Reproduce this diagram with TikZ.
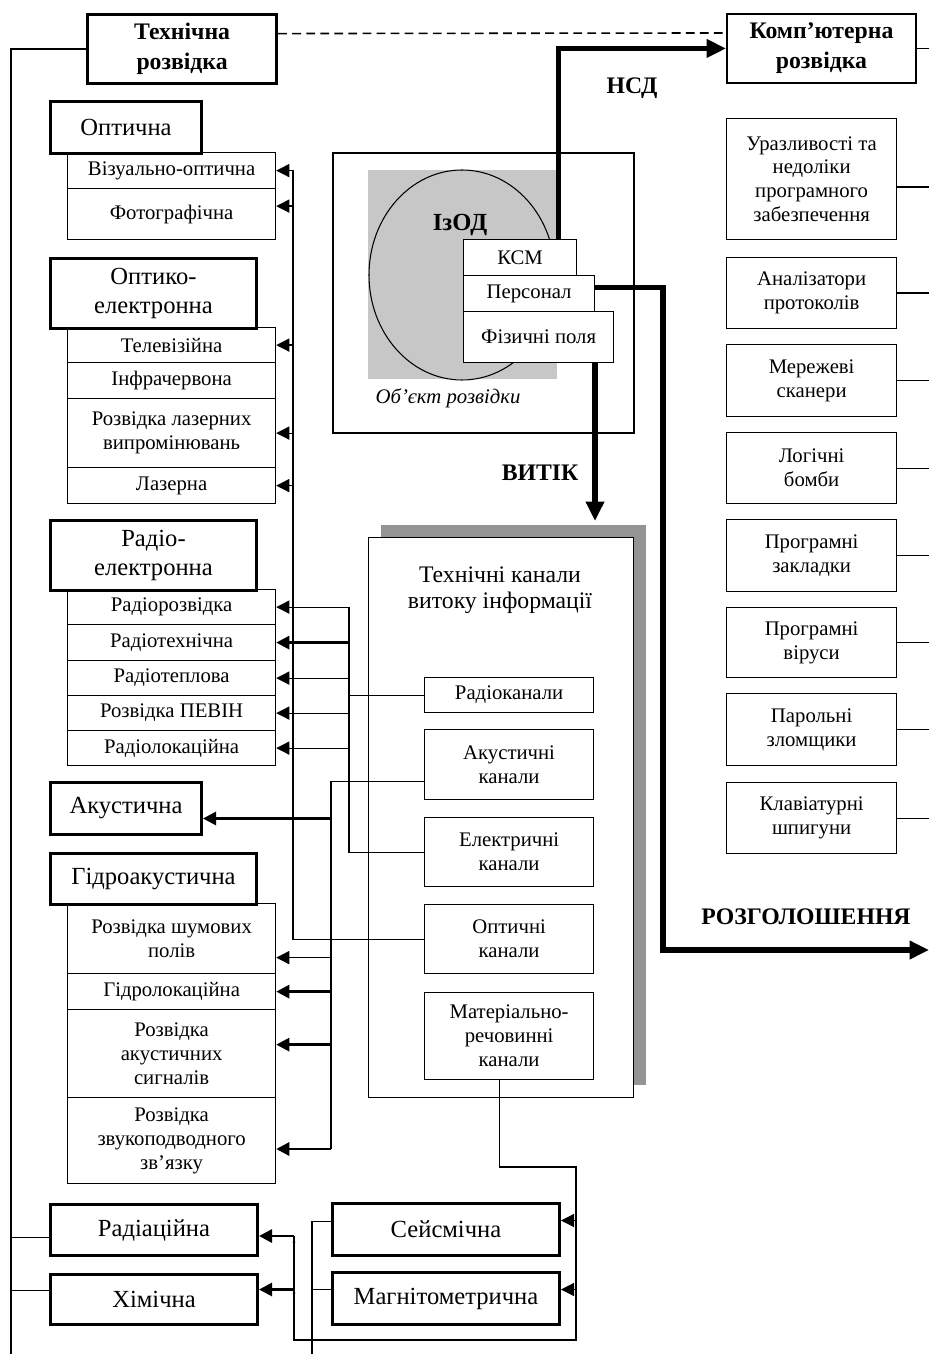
\documentclass[tikz,border=0pt]{standalone}
\usepackage{fontspec}
\setmainfont{Liberation Serif}
\usetikzlibrary{positioning, arrows.meta, shadows}
\newlength{\pxu}
\setlength{\pxu}{0.02cm}

\begin{document}
\begin{tikzpicture}[
  x=\pxu, y=-\pxu, line width=0.7pt,
  every node/.style={font=\fontsize{11.8}{13.6}\selectfont},
  wh/.style 2 args={minimum width=#1\pxu, minimum height=#2\pxu},
  hdr/.style={draw, line width=1.7pt, align=center, inner sep=0pt, anchor=north west, font=\fontsize{14}{16}\selectfont},
  hdrb/.style={draw, line width=1.8pt, align=center, inner sep=0pt, anchor=north west, font=\fontsize{13.5}{17}\selectfont\bfseries},
  sub/.style={draw, line width=0.7pt, align=center, inner sep=0pt, anchor=north west},
  lbl/.style={font=\fontsize{13.5}{16}\selectfont\bfseries},
  arr/.style={-{Triangle[length=7.5pt, width=7.5pt]}, line width=0.7pt},
  marr/.style={-{Triangle[length=7.5pt, width=7.5pt]}, line width=1.6pt},
  barr/.style={-{Triangle[length=11pt, width=10pt]}, line width=3pt}
]
\useasboundingbox (0,0) rectangle (929,1354);

% --- top boxes ---
\node[hdrb, wh={189}{69}] (tech) at (86,13) {Технічна\\розвідка};
\node[hdrb, wh={189}{69}, line width=1.1pt] (comp) at (726,13) {Комп’ютерна\\розвідка};
\draw[line width=0.9pt, dash pattern=on 5pt off 3pt] ([yshift=15.5\pxu]tech.east) -- ([yshift=15.5\pxu]comp.west);

% --- object of reconnaissance ---
\node[draw, line width=1.3pt, anchor=north west, inner sep=0pt, wh={301}{280}] (obj) at (332,152) {};
\fill[black!22] (368,170) rectangle (557,379);
\draw[line width=0.6pt] (462,275) ellipse [x radius=93, y radius=105];
\node[font=\fontsize{14}{16}\selectfont\bfseries] (izod) at (460,225) {ІзОД};
\node[sub, fill=white, wh={150}{51}] (phys) at (463,311) {Фізичні поля};
\node[sub, fill=white, wh={131}{36}] (pers) at (463,275) {Персонал};
\node[sub, fill=white, wh={113}{36}] (ksm) at (463,239) {КСМ};
\node[font=\fontsize{11.8}{14}\selectfont\itshape] (objlbl) at (448,398) {Об’єкт розвідки};

% --- channels of leakage ---
\node[draw, fill=white, anchor=north west, inner sep=0pt, wh={265}{560},
  drop shadow={shadow xshift=12\pxu, shadow yshift=13\pxu, fill=black!42, opacity=1}] (chan) at (368,537) {};
\node[font=\fontsize{13.5}{14.5}\selectfont, align=center] (chantitle) at (500,590) {Технічні канали\\витоку інформації};
\node[sub, wh={169}{35}] (rch) at (424,677) {Радіоканали};
\node[sub, wh={169}{70}] (ach) at (424,729) {Акустичні\\канали};
\node[sub, wh={169}{69}] (ech) at (424,817) {Електричні\\канали};
\node[sub, wh={169}{69}] (och) at (424,904) {Оптичні\\канали};
\node[sub, wh={169}{87}] (mch) at (424,992) {Матеріально-\\речовинні\\канали};

% --- thick flows ---
\draw[barr] ([xshift=-19\pxu]ksm.north east) |- (comp.west);
\node[lbl] (nsd) at (632,88) {НСД};
\coordinate (leak) at (595,521);
\draw[barr] (phys.south -| leak) -- (leak);
\node[lbl] (vytik) at (540,473) {ВИТІК};
\coordinate (discturn) at (663,950);
\coordinate (disc) at (929,950);
\draw[barr] ([yshift=6\pxu]pers.east) -| (discturn) -- (disc);
\node[lbl] (rozg) at (806,917) {РОЗГОЛОШЕННЯ};

% --- computer reconnaissance ---
\coordinate (redge) at (929,0);
\draw (comp.east) -- (comp.east -| redge);
\node[sub, wh={170}{121}] (vuln) at (726,118) {Уразливості та\\недоліки\\програмного\\забезпечення};
\node[sub, wh={170}{71}] (anal) at (726,257) {Аналізатори\\протоколів};
\node[sub, wh={170}{72}] (scan) at (726,344) {Мережеві\\сканери};
\node[sub, wh={170}{71}] (bomb) at (726,432) {Логічні\\бомби};
\node[sub, wh={170}{72}] (bugs) at (726,519) {Програмні\\закладки};
\node[sub, wh={170}{70}] (virus) at (726,607) {Програмні\\віруси};
\node[sub, wh={170}{72}] (pwd) at (726,693) {Парольні\\зломщики};
\node[sub, wh={170}{71}] (keys) at (726,782) {Клавіатурні\\шпигуни};
\coordinate (vulnport) at ([yshift=-8\pxu]vuln.east);
\draw (vulnport) -- (vulnport -| redge);
\foreach \n in {anal, scan, bomb, bugs, virus, pwd, keys}
  \draw (\n.east) -- (\n.east -| redge);

% --- technical reconnaissance, left column ---
\node[hdr, wh={151}{52}] (opt) at (49,100) {Оптична};
\node[sub, wh={208}{36}] (vis) at (67,152) {Візуально-оптична};
\node[sub, wh={208}{51}] (foto) at (67,188) {Фотографічна};
\node[hdr, wh={206}{70}] (optel) at (49,257) {Оптико-\\електронна};
\node[sub, wh={208}{35}] (tv) at (67,327) {Телевізійна};
\node[sub, wh={208}{36}] (ir) at (67,362) {Інфрачервона};
\node[sub, wh={208}{69}] (lasr) at (67,398) {Розвідка лазерних\\випромінювань};
\node[sub, wh={208}{36}] (lasr2) at (67,467) {Лазерна};
\node[hdr, wh={206}{70}] (radel) at (49,519) {Радіо-\\електронна};
\node[sub, wh={208}{35}] (rrozv) at (67,589) {Радіорозвідка};
\node[sub, wh={208}{36}] (rtech) at (67,624) {Радіотехнічна};
\node[sub, wh={208}{35}] (rtepl) at (67,660) {Радіотеплова};
\node[sub, wh={208}{35}] (pevin) at (67,695) {Розвідка ПЕВІН};
\node[sub, wh={208}{35}] (rloc) at (67,730) {Радіолокаційна};
\node[hdr, wh={151}{52}] (acu) at (49,781) {Акустична};
\node[hdr, wh={206}{51}] (hydro) at (49,852) {Гідроакустична};
\node[sub, wh={208}{70}] (noise) at (67,903) {Розвідка шумових\\полів};
\node[sub, wh={208}{36}] (hloc) at (67,973) {Гідролокаційна};
\node[sub, wh={208}{88}] (asig) at (67,1009) {Розвідка\\акустичних\\сигналів};
\node[sub, wh={208}{86}] (zvuk) at (67,1097) {Розвідка\\звукоподводного\\зв’язку};
\node[hdr, wh={207}{51}] (rad) at (49,1203) {Радіаційна};
\node[hdr, wh={207}{50}] (chem) at (49,1273) {Хімічна};
\node[hdr, wh={227}{52}] (seis) at (331,1202) {Сейсмічна};
\node[hdr, wh={227}{52}] (magn) at (331,1271) {Магнітометрична};

% trunk from technical reconnaissance
\coordinate (trunk) at (11,1354);
\draw (tech.west) -| (trunk);
\coordinate (radwest) at ([yshift=-7.5\pxu]rad.west);
\draw (radwest) -- (radwest -| trunk);
\coordinate (chemwest) at ([yshift=9\pxu]chem.west);
\draw (chemwest) -- (chemwest -| trunk);

% optical channels
\coordinate (optbus) at (293,170);
\draw (och.west) -| (optbus);
\foreach \n in {vis, tv, lasr, lasr2}
  \draw[arr] (\n.east -| optbus) -- (\n.east);
\coordinate (fotoport) at ([yshift=8\pxu]foto.east);
\draw[arr] (fotoport -| optbus) -- (fotoport);

% radio channels
\coordinate (radbus) at (349,607);
\draw (ech.west) -| (radbus);
\draw (rch.west) -- (rch.west -| radbus);
\foreach \n in {rrozv, rtepl, pevin, rloc}
  \draw[arr] (\n.east -| radbus) -- (\n.east);
\draw[marr] (rtech.east -| radbus) -- (rtech.east);

% acoustic channels
\coordinate (acport) at ([yshift=-17\pxu]ach.west);
\coordinate (acbus) at (331,1149);
\draw (acport) -| (acbus);
\coordinate (acuport) at ([yshift=-10\pxu]acu.east);
\draw[marr] (acuport -| acbus) -- (acuport);
\coordinate (noiseport) at ([yshift=-19\pxu]noise.east);
\draw[arr] (noiseport -| acbus) -- (noiseport);
\draw[marr] (hloc.east -| acbus) -- (hloc.east);
\coordinate (asigport) at ([yshift=9\pxu]asig.east);
\draw[marr] (asigport -| acbus) -- (asigport);
\draw[marr] (acbus) -- (acbus -| zvuk.east);

% material channels
\coordinate (matA) at (576,1167);
\coordinate (matB) at (576,1340);
\coordinate (matC) at (294,1236);
\draw ([xshift=-10\pxu]mch.south) |- (matA) -- (matB) -| (matC);
\coordinate (seisport) at ([yshift=9\pxu]seis.east);
\draw[arr] (seisport -| matA) -- (seisport);
\coordinate (magnport) at ([yshift=9\pxu]magn.east);
\draw[arr] (magnport -| matA) -- (magnport);
\draw[marr] (matC) -- (matC -| rad.east);
\coordinate (chemport) at ([yshift=10\pxu]chem.east);
\draw[marr] (chemport -| matC) -- (chemport);
\fill (294,1242) circle (1.5);
\fill (294,1293) circle (1.5);

% seismic / magnetometric lead off the page
\coordinate (seisdown) at (312,1354);
\coordinate (seiswest) at ([yshift=8\pxu]seis.west);
\draw (seiswest) -| (seisdown);
\coordinate (magnwest) at ([yshift=9\pxu]magn.west);
\draw (magnwest) -- (magnwest -| seisdown);
\end{tikzpicture}
\end{document}
